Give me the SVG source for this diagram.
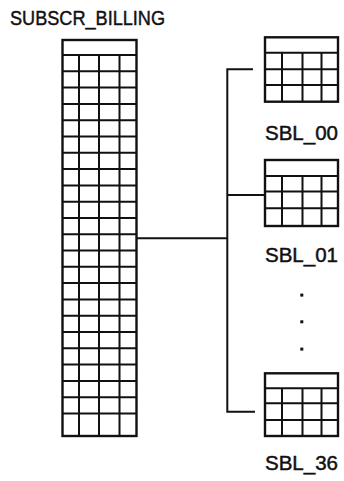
<svg xmlns="http://www.w3.org/2000/svg" width="344" height="481" viewBox="0 0 344 481">
<style>
.frame{fill:none;stroke:#111;stroke-width:2.4}
.grid{fill:none;stroke:#111;stroke-width:2}
.conn{fill:none;stroke:#111;stroke-width:2}
.lbl{font-family:"Liberation Sans",Arial,sans-serif;fill:#111;stroke:#111;stroke-width:0.45}
</style>
<rect width="344" height="481" fill="#fff"/>
<g id="subscr_billing">
<text class="lbl" x="10" y="25" font-size="20.5" textLength="155" lengthAdjust="spacingAndGlyphs">SUBSCR_BILLING</text>
<rect class="frame" x="62.5" y="40" width="74" height="396"/>
<path class="grid" d="M79,55V436M99,55V436M119.5,55V436
M62.5,55H136.5M62.5,71.3H136.5M62.5,87.6H136.5M62.5,103.9H136.5M62.5,120.2H136.5M62.5,136.5H136.5M62.5,152.8H136.5M62.5,169.1H136.5M62.5,185.4H136.5M62.5,201.7H136.5M62.5,218H136.5M62.5,234.2H136.5M62.5,250.5H136.5M62.5,266.8H136.5M62.5,283.1H136.5M62.5,299.4H136.5M62.5,315.7H136.5M62.5,332H136.5M62.5,348.3H136.5M62.5,364.6H136.5M62.5,380.9H136.5M62.5,397.2H136.5M62.5,413.4H136.5"/>
</g>
<g id="sbl_00">
<rect class="frame" x="265" y="37.3" width="73" height="64.4"/>
<path class="grid" d="M265,52.7H338M265,69.3H338M265,85H338M282,52.7V101.7M302.5,52.7V101.7M321.5,52.7V101.7"/>
<text class="lbl" x="301.5" y="140" font-size="19.5" text-anchor="middle" textLength="73" lengthAdjust="spacingAndGlyphs">SBL_00</text>
</g>
<g id="sbl_01">
<rect class="frame" x="265" y="160" width="73" height="66"/>
<path class="grid" d="M265,176H338M265,191.5H338M265,208.3H338M282,176V226M302.5,176V226M321.5,176V226"/>
<text class="lbl" x="301.5" y="261.7" font-size="19.5" text-anchor="middle" textLength="73" lengthAdjust="spacingAndGlyphs">SBL_01</text>
</g>
<g id="ellipsis">
<rect x="300.3" y="293.6" width="3" height="3" fill="#111"/>
<rect x="300.3" y="320.3" width="3" height="3" fill="#111"/>
<rect x="300.3" y="347.6" width="3" height="3" fill="#111"/>
</g>
<g id="sbl_36">
<rect class="frame" x="265" y="373.3" width="73" height="62.7"/>
<path class="grid" d="M265,388.3H338M265,403.3H338M265,420H338M282,388.3V436M302.5,388.3V436M321.5,388.3V436"/>
<text class="lbl" x="301.5" y="470" font-size="19.5" text-anchor="middle" textLength="73" lengthAdjust="spacingAndGlyphs">SBL_36</text>
</g>
<g id="connectors">
<path class="conn" d="M137,238.3H227.3"/>
<path class="conn" d="M253,69.3H227.3V411.7H255"/>
<path class="conn" d="M227.3,195H265"/>
</g>
</svg>
